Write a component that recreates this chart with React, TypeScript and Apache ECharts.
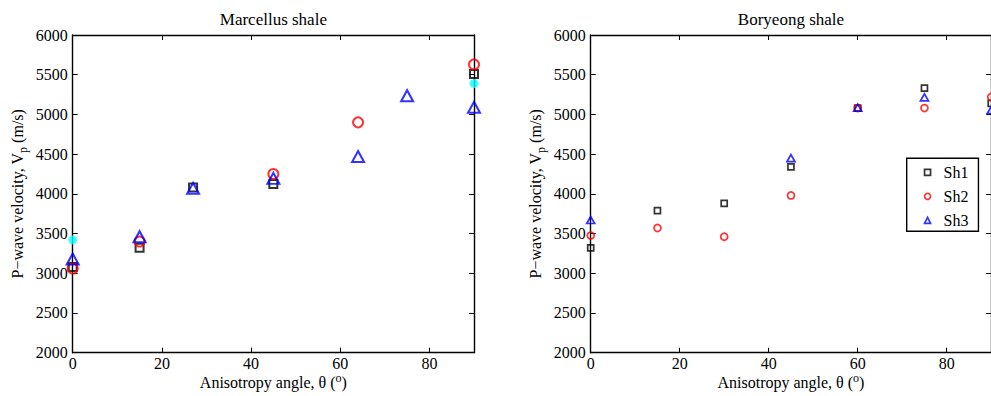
import React, { useEffect, useRef } from 'react';
import * as echarts from 'echarts';

// ---- Data ----
const titles = ['Marcellus shale', 'Boryeong shale'];
const seriesNames = ['Sh1', 'Sh2', 'Sh3'];

// Marcellus shale
const marcellusSh1Angle = [0, 15, 27, 45, 90];
const marcellusSh1Vp = [3080, 3320, 4080, 4125, 5510];
const marcellusSh2Angle = [0, 15, 45, 64, 90];
const marcellusSh2Vp = [3060, 3400, 4250, 4900, 5630];
const marcellusSh3Angle = [0, 15, 27, 45, 64, 75, 90];
const marcellusSh3Vp = [3180, 3460, 4070, 4195, 4470, 5235, 5090];
const marcellusExtraAngle = [0, 90];
const marcellusExtraVp = [3420, 5390];

// Boryeong shale
const boryeongSh1Angle = [0, 15, 30, 45, 60, 75, 90];
const boryeongSh1Vp = [3320, 3790, 3880, 4340, 5080, 5330, 5140];
const boryeongSh2Angle = [0, 15, 30, 45, 60, 75, 90];
const boryeongSh2Vp = [3475, 3570, 3460, 3980, 5080, 5080, 5220];
const boryeongSh3Angle = [0, 45, 60, 75, 90];
const boryeongSh3Vp = [3670, 4450, 5085, 5215, 5055];

const xMin = 0;
const xMax = 90;
const xInterval = 20;
const yMin = 2000;
const yMax = 6000;
const yInterval = 500;

const FONT = 'Liberation Serif';

const pts = (xs: number[], ys: number[]) => xs.map((x, i) => [x, ys[i]]);

const GRIDS = [
  { left: 72.7, top: 35, width: 401.3, height: 317.7 },
  { left: 590.7, top: 35, width: 400.5, height: 317.7 },
];

const STAR = 'path://M5,0L5,10M0,5L10,5M1.5,1.5L8.5,8.5M1.5,8.5L8.5,1.5';

function buildOption() {
  const axisLine = { show: true, onZero: false, lineStyle: { color: '#000', width: 1.4 } };
  const axisTick = { show: true, inside: true, length: 5, lineStyle: { color: '#000', width: 1 } };
  const labelStyle = { color: '#000', fontFamily: FONT, fontSize: 16, lineHeight: 14 };
  const nameStyle = {
    color: '#000',
    fontFamily: FONT,
    fontSize: 16,
    lineHeight: 22,
    rich: {
      sup: { color: '#000', fontFamily: FONT, fontSize: 12, lineHeight: 12, verticalAlign: 'top' },
      sub: { color: '#000', fontFamily: FONT, fontSize: 12, lineHeight: 12, verticalAlign: 'bottom' },
    },
  };

  const xAxis: any[] = [];
  const yAxis: any[] = [];
  GRIDS.forEach((_, i) => {
    xAxis.push({
      type: 'value', gridIndex: i, position: 'bottom',
      min: xMin, max: xMax, interval: xInterval,
      axisLine, axisTick,
      axisLabel: { ...labelStyle, margin: 4, formatter: (v: number) => (v === xMax ? '' : String(v)) },
      splitLine: { show: false },
      name: 'Anisotropy angle, θ ({sup|o})',
      nameLocation: 'middle', nameGap: 19, nameMoveOverlap: false,
      nameTextStyle: nameStyle,
    });
    xAxis.push({
      type: 'value', gridIndex: i, position: 'top',
      min: xMin, max: xMax, interval: xInterval,
      axisLine, axisTick,
      axisLabel: { show: false },
      splitLine: { show: false },
    });
    yAxis.push({
      type: 'value', gridIndex: i, position: 'left',
      min: yMin, max: yMax, interval: yInterval,
      axisLine, axisTick,
      axisLabel: { ...labelStyle, margin: 5, formatter: (v: number) => String(v) },
      splitLine: { show: false },
      name: 'P−wave velocity, V{sub|p} (m/s)',
      nameLocation: 'middle', nameGap: 44, nameRotate: 90, nameMoveOverlap: false,
      nameTextStyle: nameStyle,
    });
    yAxis.push({
      type: 'value', gridIndex: i, position: 'right',
      min: yMin, max: yMax, interval: yInterval,
      axisLine, axisTick,
      axisLabel: { show: false },
      splitLine: { show: false },
    });
  });

  const hollow = (c: string, w: number) => ({ color: 'rgba(255,255,255,0)', borderColor: c, borderWidth: w });

  const series: any[] = [
    { name: 'Marcellus Sh1', type: 'scatter', xAxisIndex: 0, yAxisIndex: 0, symbol: 'rect', symbolSize: 8, itemStyle: hollow('#000', 2), data: pts(marcellusSh1Angle, marcellusSh1Vp) },
    { name: 'Marcellus Sh2', type: 'scatter', xAxisIndex: 0, yAxisIndex: 0, symbol: 'circle', symbolSize: 10, itemStyle: hollow('#ff0000', 2), data: pts(marcellusSh2Angle, marcellusSh2Vp) },
    { name: 'Marcellus Sh3', type: 'scatter', xAxisIndex: 0, yAxisIndex: 0, symbol: 'triangle', symbolSize: [12, 11], itemStyle: hollow('#0000ff', 2), data: pts(marcellusSh3Angle, marcellusSh3Vp) },
    { name: 'Marcellus extra', type: 'scatter', xAxisIndex: 0, yAxisIndex: 0, symbol: STAR, symbolSize: 9, itemStyle: { color: '#00ffff', borderColor: '#00ffff', borderWidth: 2.4 }, data: pts(marcellusExtraAngle, marcellusExtraVp) },
    { name: seriesNames[0], type: 'scatter', xAxisIndex: 2, yAxisIndex: 2, symbol: 'rect', symbolSize: 6, itemStyle: hollow('#000', 1.7), data: pts(boryeongSh1Angle, boryeongSh1Vp) },
    { name: seriesNames[1], type: 'scatter', xAxisIndex: 2, yAxisIndex: 2, symbol: 'circle', symbolSize: 7, itemStyle: hollow('#ff0000', 1.7), data: pts(boryeongSh2Angle, boryeongSh2Vp) },
    { name: seriesNames[2], type: 'scatter', xAxisIndex: 2, yAxisIndex: 2, symbol: 'triangle', symbolSize: [8, 7], itemStyle: hollow('#0000ff', 1.7), data: pts(boryeongSh3Angle, boryeongSh3Vp) },
  ];

  return {
    animation: false,
    backgroundColor: '#fff',
    grid: GRIDS.map((g) => ({ ...g, containLabel: false, outerBoundsMode: 'none' })),
    xAxis,
    yAxis,
    series,
    legend: {
      data: seriesNames,
      orient: 'vertical',
      left: 906.7,
      top: 158.3,
      padding: [6, 10, 3, 17],
      itemWidth: 6,
      itemHeight: 6,
      itemGap: 8,
      borderColor: '#000',
      borderWidth: 1.4,
      backgroundColor: '#fff',
      selectedMode: false,
      itemStyle: { borderWidth: 1.7 },
      textStyle: { color: '#000', fontFamily: FONT, fontSize: 16, padding: [0, 0, 0, 8] },
    },
    graphic: titles.map((t, i) => ({
      type: 'text',
      x: GRIDS[i].left + GRIDS[i].width / 2,
      y: 19,
      style: { text: t, fontFamily: FONT, fontSize: 17, fill: '#000', align: 'center', verticalAlign: 'middle' },
    })),
  };
}

export default function App() {
  const ref = useRef<HTMLDivElement>(null);
  useEffect(() => {
    if (!ref.current) return;
    const chart = echarts.init(ref.current, undefined, { renderer: 'svg' });
    chart.setOption(buildOption() as any);
    return () => chart.dispose();
  }, []);
  return (
    <div
      ref={ref}
      style={{ position: 'absolute', left: 0, top: 0, width: 991, height: 396, background: '#fff' }}
    />
  );
}
